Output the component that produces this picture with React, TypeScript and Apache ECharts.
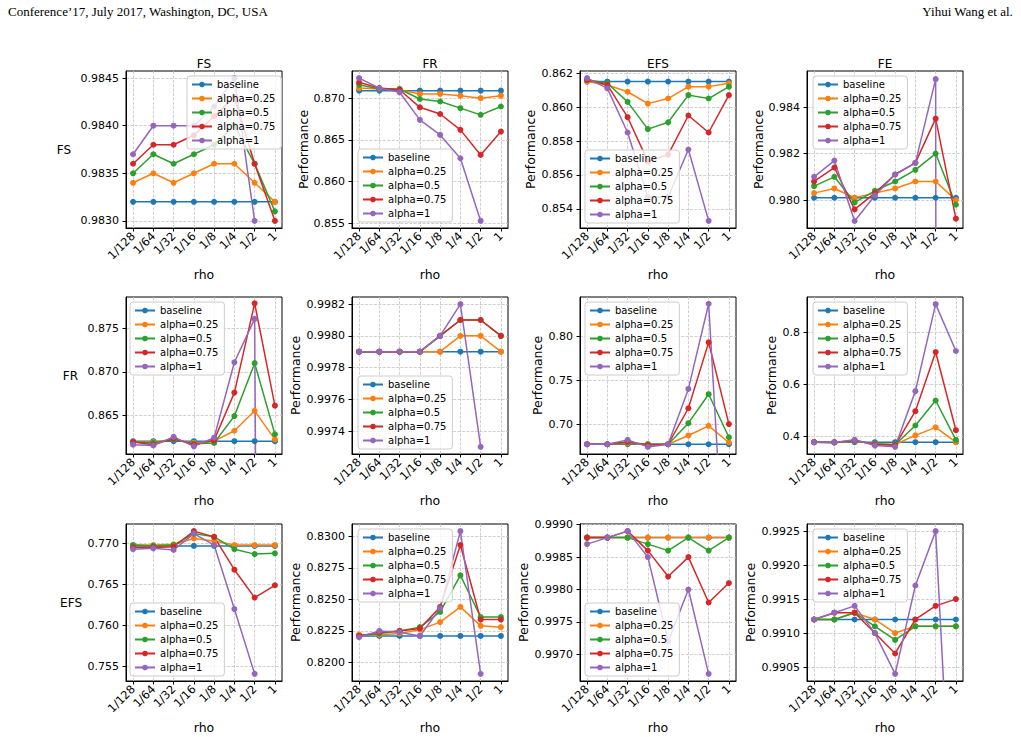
import React, { useEffect, useRef } from 'react';
import * as echarts from 'echarts';

// Sweep of rho on the x axis, one line per alpha setting
const rhoLabels = ['1/128', '1/64', '1/32', '1/16', '1/8', '1/4', '1/2', '1'];
const seriesNames = ['baseline', 'alpha=0.25', 'alpha=0.5', 'alpha=0.75', 'alpha=1'];
const seriesColors = ['#1f77b4', '#ff7f0e', '#2ca02c', '#d62728', '#9467bd'];
const columnTitles = ['FS', 'FR', 'EFS', 'FE'];
const rowMetrics = ['FS', 'FR', 'EFS'];

// Each panel: rows follow seriesNames, columns follow rhoLabels (null = no value)
const panelFS_FS = [
  [0.9832, 0.9832, 0.9832, 0.9832, 0.9832, 0.9832, 0.9832, 0.9832],
  [0.9834, 0.9835, 0.9834, 0.9835, 0.9836, 0.9836, 0.9834, 0.9832],
  [0.9835, 0.9837, 0.9836, 0.9837, 0.9838, 0.984, 0.9836, 0.9831],
  [0.9836, 0.9838, 0.9838, 0.9839, 0.9841, 0.9843, 0.9836, 0.983],
  [0.9837, 0.984, 0.984, 0.984, 0.9842, 0.9845, 0.983, null],
];
const panelFS_FR = [
  [0.8709, 0.8709, 0.8709, 0.8709, 0.8709, 0.8709, 0.8709, 0.8709],
  [0.8712, 0.8711, 0.871, 0.8705, 0.8705, 0.8703, 0.87, 0.8703],
  [0.8716, 0.8711, 0.8711, 0.8699, 0.8696, 0.8688, 0.868, 0.869],
  [0.8719, 0.8712, 0.871, 0.8689, 0.8681, 0.8662, 0.8632, 0.866],
  [0.8724, 0.8712, 0.8707, 0.8674, 0.8656, 0.8628, 0.8553, null],
];
const panelFS_EFS = [
  [0.8615, 0.8615, 0.8615, 0.8615, 0.8615, 0.8615, 0.8615, 0.8615],
  [0.8615, 0.8613, 0.8609, 0.8602, 0.8605, 0.8612, 0.8612, 0.8614],
  [0.8616, 0.8614, 0.8603, 0.8587, 0.8591, 0.8607, 0.8605, 0.8612],
  [0.8616, 0.8613, 0.8594, 0.8568, 0.8572, 0.8595, 0.8585, 0.8607],
  [0.8617, 0.8611, 0.8585, 0.8547, 0.8547, 0.8575, 0.8533, null],
];
const panelFS_FE = [
  [0.9801, 0.9801, 0.9801, 0.9801, 0.9801, 0.9801, 0.9801, 0.9801],
  [0.9803, 0.9805, 0.9801, 0.9803, 0.9805, 0.9808, 0.9808, 0.98],
  [0.9806, 0.981, 0.9799, 0.9804, 0.9808, 0.9813, 0.982, 0.9798],
  [0.9808, 0.9814, 0.9796, 0.9803, 0.9811, 0.9816, 0.9835, 0.9792],
  [0.981, 0.9817, 0.9791, 0.9802, 0.9811, 0.9816, 0.9852, 0.3],
];
const panelFR_FS = [
  [0.862, 0.862, 0.862, 0.862, 0.862, 0.862, 0.862, 0.862],
  [0.8619, 0.8619, 0.8622, 0.8618, 0.862, 0.8632, 0.8655, 0.8622],
  [0.8619, 0.8618, 0.8622, 0.8617, 0.8618, 0.8649, 0.871, 0.8628],
  [0.8619, 0.8616, 0.8623, 0.8616, 0.8621, 0.8676, 0.8779, 0.8661],
  [0.8616, 0.8615, 0.8625, 0.8614, 0.8624, 0.8711, 0.8761, 0.5],
];
const panelFR_FR = [
  [0.9979, 0.9979, 0.9979, 0.9979, 0.9979, 0.9979, 0.9979, 0.9979],
  [0.9979, 0.9979, 0.9979, 0.9979, 0.9979, 0.998, 0.998, 0.9979],
  [0.9979, 0.9979, 0.9979, 0.9979, 0.998, 0.9981, 0.9981, 0.998],
  [0.9979, 0.9979, 0.9979, 0.9979, 0.998, 0.9981, 0.9981, 0.998],
  [0.9979, 0.9979, 0.9979, 0.9979, 0.998, 0.9982, 0.9973, null],
];
const panelFR_EFS = [
  [0.677, 0.677, 0.677, 0.677, 0.677, 0.677, 0.677, 0.677],
  [0.677, 0.677, 0.678, 0.677, 0.677, 0.687, 0.698, 0.679],
  [0.677, 0.677, 0.679, 0.677, 0.677, 0.701, 0.734, 0.685],
  [0.677, 0.677, 0.68, 0.676, 0.677, 0.718, 0.793, 0.7],
  [0.677, 0.677, 0.682, 0.674, 0.677, 0.74, 0.837, 0.44],
];
const panelFR_FE = [
  [0.378, 0.378, 0.378, 0.378, 0.378, 0.378, 0.378, 0.378],
  [0.378, 0.377, 0.382, 0.373, 0.369, 0.404, 0.435, 0.378],
  [0.378, 0.377, 0.383, 0.371, 0.368, 0.442, 0.538, 0.387],
  [0.378, 0.377, 0.385, 0.369, 0.366, 0.497, 0.724, 0.424],
  [0.378, 0.377, 0.387, 0.365, 0.36, 0.574, 0.908, 0.728],
];
const panelEFS_FS = [
  [0.7697, 0.7697, 0.7697, 0.7697, 0.7697, 0.7697, 0.7697, 0.7697],
  [0.7698, 0.7698, 0.7699, 0.7706, 0.7703, 0.7698, 0.7698, 0.7698],
  [0.7698, 0.7697, 0.7698, 0.7712, 0.7708, 0.7693, 0.7687, 0.7688],
  [0.7695, 0.7695, 0.7696, 0.7715, 0.7708, 0.7668, 0.7634, 0.7649],
  [0.7693, 0.7694, 0.7692, 0.7712, 0.7698, 0.762, 0.7541, null],
];
const panelEFS_FR = [
  [0.8221, 0.8221, 0.8221, 0.8221, 0.8221, 0.8221, 0.8221, 0.8221],
  [0.8222, 0.8222, 0.8223, 0.8226, 0.8232, 0.8244, 0.8229, 0.8228],
  [0.8221, 0.8223, 0.8225, 0.8228, 0.824, 0.8269, 0.8236, 0.8236],
  [0.8221, 0.8224, 0.8225, 0.8227, 0.8244, 0.8293, 0.8234, 0.8234],
  [0.822, 0.8225, 0.8224, 0.8221, 0.8243, 0.8304, 0.8191, null],
];
const panelEFS_EFS = [
  [0.9988, 0.9988, 0.9988, 0.9988, 0.9988, 0.9988, 0.9988, 0.9988],
  [0.9988, 0.9988, 0.9988, 0.9988, 0.9988, 0.9988, 0.9988, 0.9988],
  [0.9988, 0.9988, 0.9988, 0.9987, 0.9986, 0.9988, 0.9986, 0.9988],
  [0.9988, 0.9988, 0.9989, 0.9986, 0.9982, 0.9985, 0.9978, 0.9981],
  [0.9987, 0.9988, 0.9989, 0.9985, 0.9972, 0.998, 0.9967, null],
];
const panelEFS_FE = [
  [0.9912, 0.9912, 0.9912, 0.9912, 0.9912, 0.9912, 0.9912, 0.9912],
  [0.9912, 0.9912, 0.9913, 0.9912, 0.991, 0.9911, 0.9911, 0.9911],
  [0.9912, 0.9912, 0.9913, 0.9911, 0.9909, 0.9911, 0.9911, 0.9911],
  [0.9912, 0.9913, 0.9913, 0.991, 0.9907, 0.9912, 0.9914, 0.9915],
  [0.9912, 0.9913, 0.9914, 0.991, 0.9904, 0.9917, 0.9925, 0.9868],
];

// Y tick labels per panel
const ticksFS_FS = ['0.9830', '0.9835', '0.9840', '0.9845'];
const ticksFS_FR = ['0.855', '0.860', '0.865', '0.870'];
const ticksFS_EFS = ['0.854', '0.856', '0.858', '0.860', '0.862'];
const ticksFS_FE = ['0.980', '0.982', '0.984'];
const ticksFR_FS = ['0.865', '0.870', '0.875'];
const ticksFR_FR = ['0.9974', '0.9976', '0.9978', '0.9980', '0.9982'];
const ticksFR_EFS = ['0.70', '0.75', '0.80'];
const ticksFR_FE = ['0.4', '0.6', '0.8'];
const ticksEFS_FS = ['0.755', '0.760', '0.765', '0.770'];
const ticksEFS_FR = ['0.8200', '0.8225', '0.8250', '0.8275', '0.8300'];
const ticksEFS_EFS = ['0.9970', '0.9975', '0.9980', '0.9985', '0.9990'];
const ticksEFS_FE = ['0.9905', '0.9910', '0.9915', '0.9920', '0.9925'];

// Y axis extents per panel [min, max]
const yRangeFS = [[0.982925, 0.984575], [0.85445, 0.87325], [0.85288, 0.86212], [0.9788, 0.98555]];
const yRangeFR = [[0.86052, 0.87863], [0.997255, 0.998245], [0.6659, 0.8447], [0.3326, 0.9354]];
const yRangeEFS = [[0.75323, 0.77237], [0.818535, 0.830965], [0.99659, 0.99901], [0.990295, 0.992605]];

const panelValues = [
  [panelFS_FS, panelFS_FR, panelFS_EFS, panelFS_FE],
  [panelFR_FS, panelFR_FR, panelFR_EFS, panelFR_FE],
  [panelEFS_FS, panelEFS_FR, panelEFS_EFS, panelEFS_FE],
];
const panelTicks = [
  [ticksFS_FS, ticksFS_FR, ticksFS_EFS, ticksFS_FE],
  [ticksFR_FS, ticksFR_FR, ticksFR_EFS, ticksFR_FE],
  [ticksEFS_FS, ticksEFS_FR, ticksEFS_EFS, ticksEFS_FE],
];
const panelRanges = [yRangeFS, yRangeFR, yRangeEFS];

// Layout of the 3 x 4 panel grid (pixels)
const colLeft = [126, 352, 580, 807];
const rowTop = [71, 297, 524];
const plotW = 156;
const plotH = 157;
const yNameGap = [
  [55, 42, 43, 42],
  [48, 50, 36, 29],
  [44, 50, 50, 50],
];
const legendPos = [
  [[187, 76], [358, 149], [585, 150], [813, 76]],
  [[130, 302], [358, 376], [585, 302], [813, 302]],
  [[130, 603], [358, 529], [585, 603], [813, 529]],
];

const FONT = 'DejaVu Sans';

function buildOption() {
  const grid: any[] = [];
  const xAxis: any[] = [];
  const yAxis: any[] = [];
  const series: any[] = [];
  const legend: any[] = [];
  const title: any[] = [];
  const rhoIdx = rhoLabels.map((_, k) => k);
  const gridLine = { show: true, lineStyle: { color: '#c4c4c4', type: [3, 1.4], width: 0.8 } };

  for (let r = 0; r < 3; r++) {
    for (let c = 0; c < 4; c++) {
      const i = r * 4 + c;
      const ticks = panelTicks[r][c];
      const tickVals = ticks.map(Number);
      const dec = ticks[0].split('.')[1].length;
      const [yMin, yMax] = panelRanges[r][c];
      grid.push({
        left: colLeft[c], top: rowTop[r], width: plotW, height: plotH,
        show: true, borderColor: '#000', borderWidth: 1, backgroundColor: 'transparent',
      });
      xAxis.push({
        gridIndex: i, type: 'value', min: -0.35, max: 7.35,
        axisLine: { show: true, onZero: false, lineStyle: { color: '#000', width: 1 } },
        axisTick: { show: true, length: 3.5, customValues: rhoIdx, lineStyle: { color: '#000' } },
        axisLabel: {
          customValues: rhoIdx, rotate: 45, fontSize: 11.5, color: '#000', margin: 6, fontFamily: FONT,
          formatter: (v: number) => rhoLabels[Math.round(v)],
        },
        splitLine: gridLine,
        name: 'rho', nameLocation: 'middle', nameGap: 40,
        nameTextStyle: { fontSize: 12.5, color: '#000', fontFamily: FONT },
      });
      const horizontalName = c === 0;
      yAxis.push({
        gridIndex: i, type: 'value', min: yMin, max: yMax,
        axisLine: { show: true, onZero: false, lineStyle: { color: '#000', width: 1 } },
        axisTick: { show: true, length: 3.5, customValues: tickVals, lineStyle: { color: '#000' } },
        axisLabel: {
          customValues: tickVals, fontSize: 11, color: '#000', margin: 7, fontFamily: FONT,
          formatter: (v: number) => v.toFixed(dec),
        },
        splitLine: gridLine,
        name: horizontalName ? rowMetrics[r] : 'Performance',
        nameLocation: 'middle', nameGap: yNameGap[r][c], nameRotate: horizontalName ? 0 : 90,
        nameTextStyle: { fontSize: horizontalName ? 12 : 12.5, color: '#000', fontFamily: FONT },
      });
      const vals = panelValues[r][c];
      vals.forEach((row, s) => {
        const data: number[][] = [];
        row.forEach((v, k) => { if (v !== null) data.push([k, v as number]); });
        series.push({
          type: 'line', name: seriesNames[s], xAxisIndex: i, yAxisIndex: i, data,
          symbol: 'circle', symbolSize: 6, clip: true,
          color: seriesColors[s],
          lineStyle: { width: 1.5, color: seriesColors[s] },
          itemStyle: { color: seriesColors[s] },
          emphasis: { disabled: true },
        });
      });
      legend.push({
        data: seriesNames, orient: 'vertical', left: legendPos[r][c][0], top: legendPos[r][c][1],
        itemWidth: 20, itemHeight: 7, itemGap: 3, padding: [3, 6, 3, 4],
        backgroundColor: 'rgba(255,255,255,0.8)', borderColor: '#cccccc', borderWidth: 1, borderRadius: 3,
        textStyle: { fontSize: 10, lineHeight: 11, color: '#000', fontFamily: FONT },
        selectedMode: false,
      });
    }
  }
  columnTitles.forEach((t, c) => {
    title.push({
      text: t, left: colLeft[c] + plotW / 2, top: 58, textAlign: 'center', padding: 0,
      textStyle: { fontSize: 12, fontWeight: 'normal', color: '#000', fontFamily: FONT },
    });
  });

  return {
    animation: false,
    backgroundColor: '#fff',
    textStyle: { fontFamily: FONT },
    title, grid, xAxis, yAxis, series, legend,
    graphic: [
      {
        type: 'text', left: 8, top: 5,
        style: { text: 'Conference’17, July 2017, Washington, DC, USA', fontSize: 13, fontFamily: 'Liberation Serif', fill: '#000' },
      },
      {
        type: 'text', right: 8, top: 5,
        style: { text: 'Yihui Wang et al.', fontSize: 13, fontFamily: 'Liberation Serif', fill: '#000' },
      },
    ],
  };
}

export default function App() {
  const ref = useRef<HTMLDivElement>(null);
  useEffect(() => {
    if (!ref.current) return;
    const chart = echarts.init(ref.current, null, { renderer: 'svg' });
    chart.setOption(buildOption() as any);
    return () => chart.dispose();
  }, []);
  return (
    <div
      ref={ref}
      style={{ position: 'fixed', left: 0, top: 0, width: 1021, height: 737, background: '#fff' }}
    />
  );
}
